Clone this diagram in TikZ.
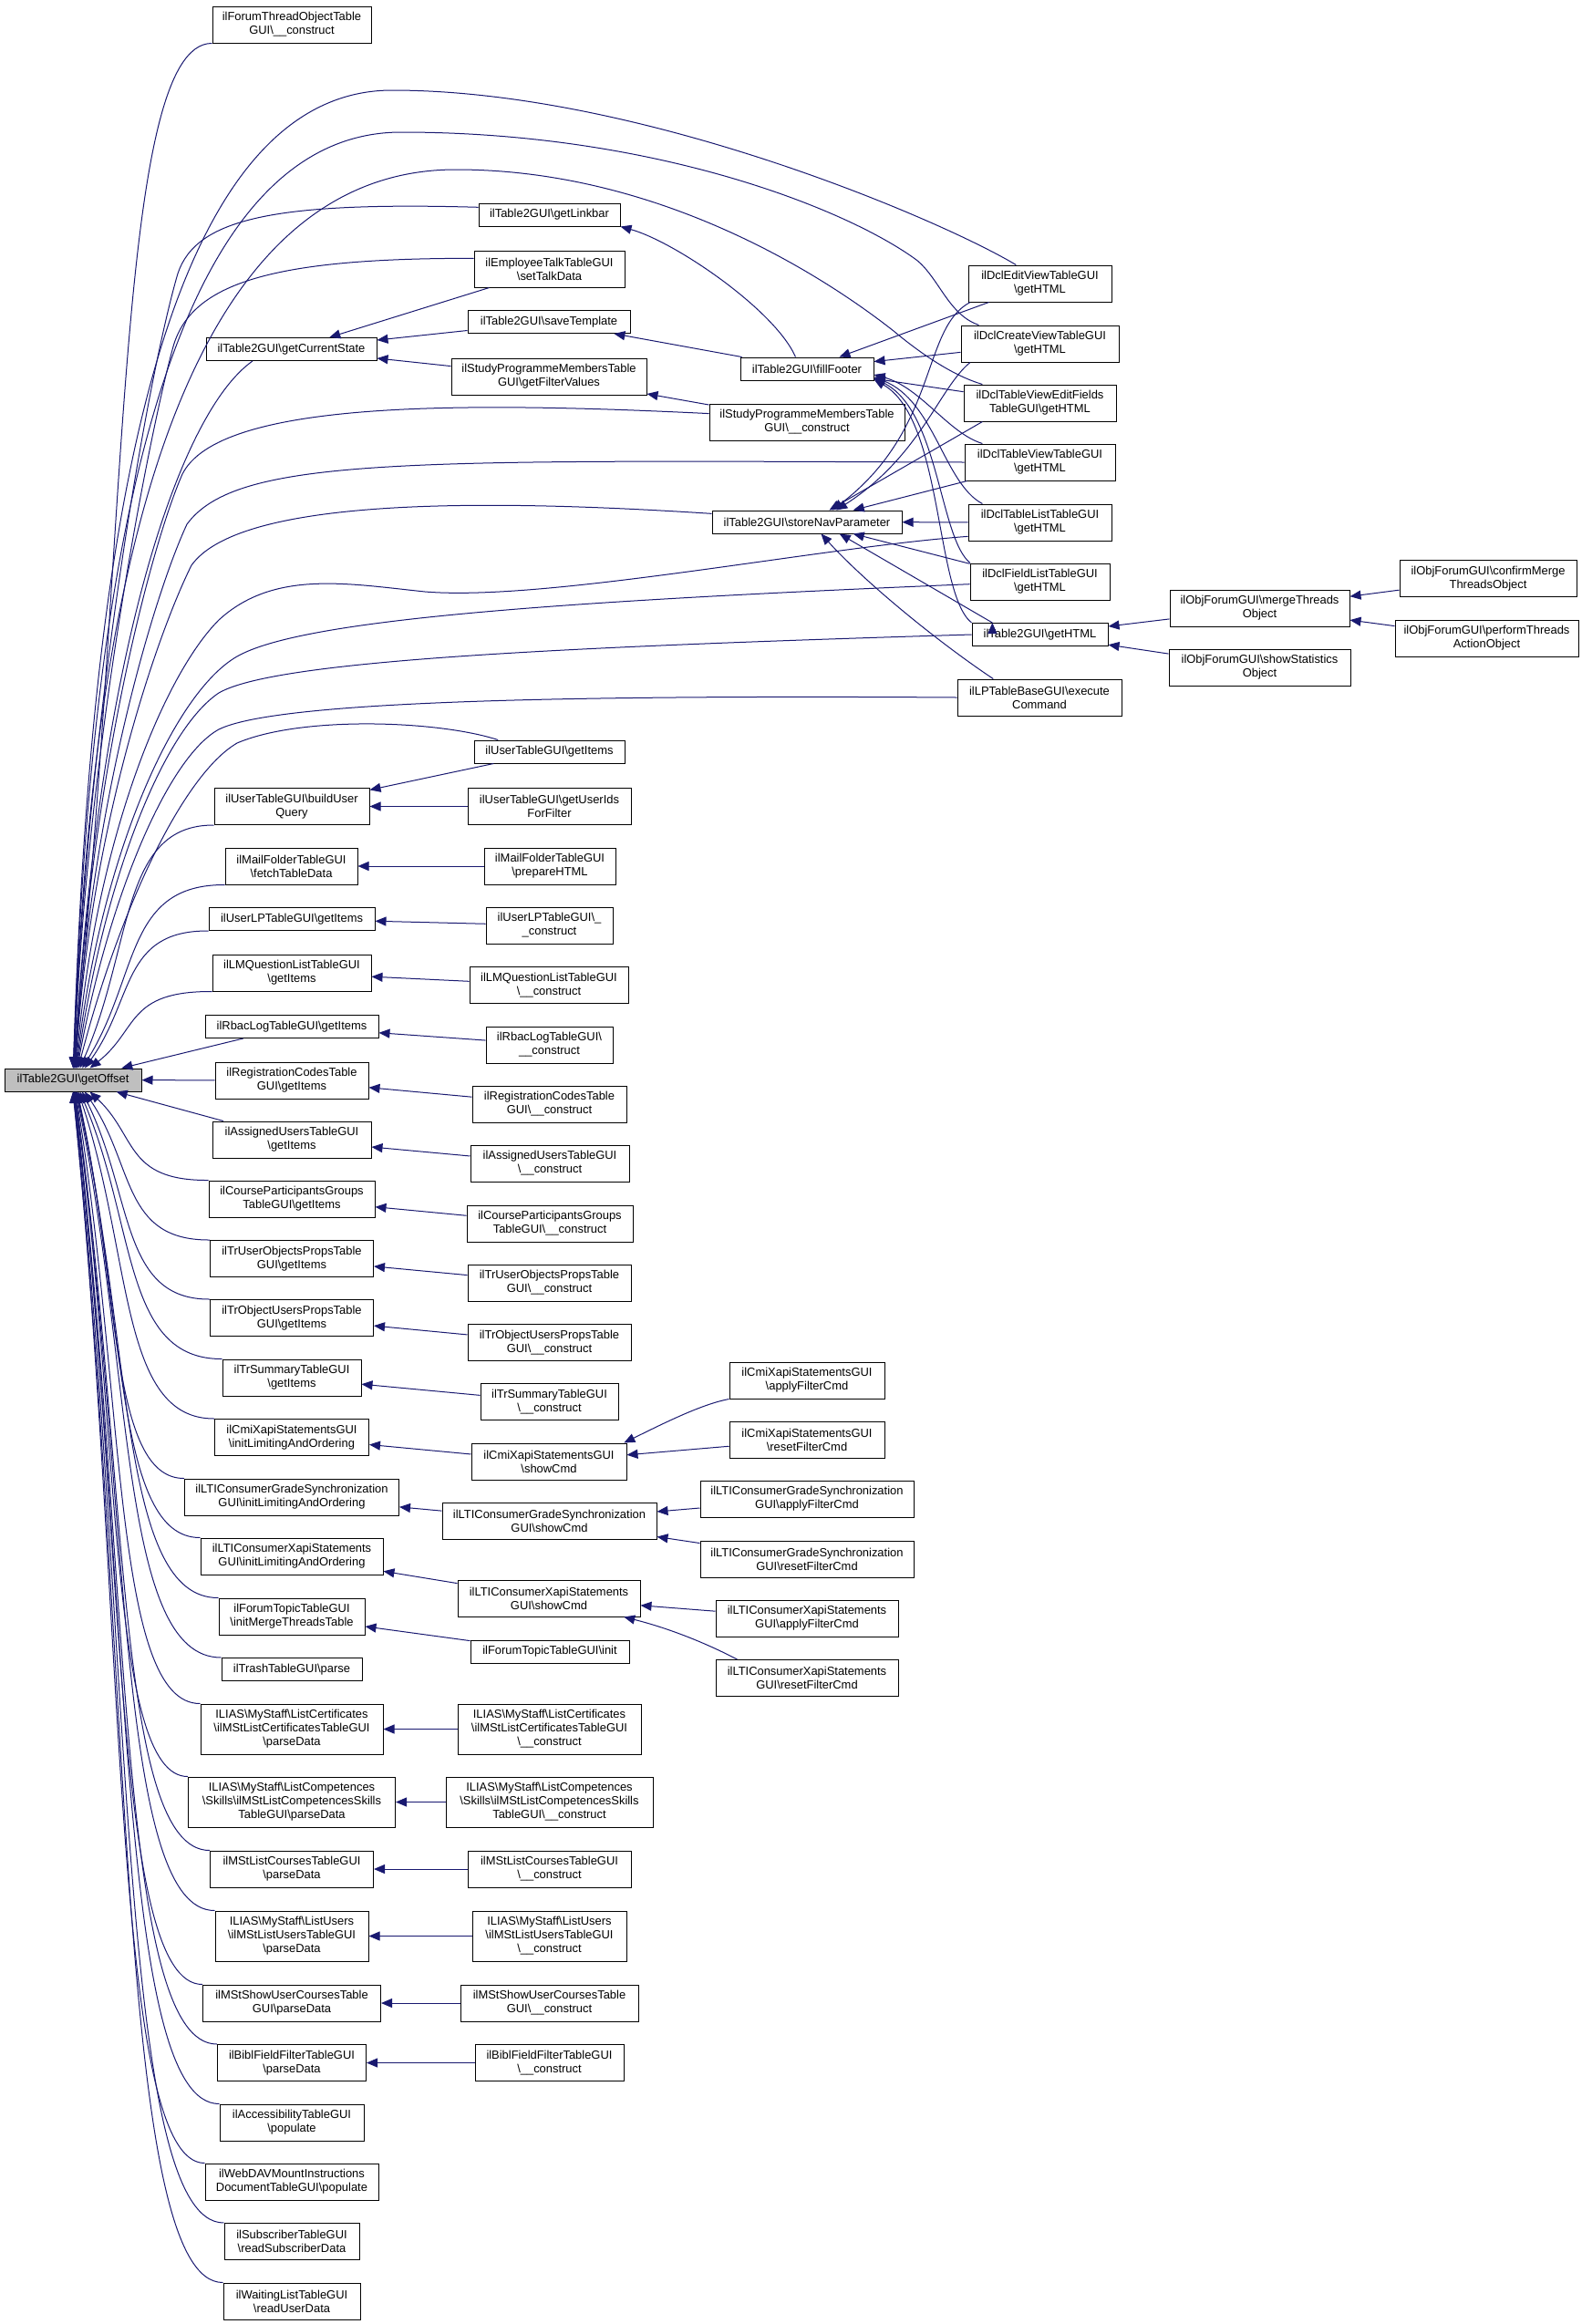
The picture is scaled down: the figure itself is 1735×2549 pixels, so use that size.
\documentclass[tikz,border=0pt]{standalone}
\usepackage{fontspec}
\setmainfont{Liberation Sans}
\usepackage{tikz}
\usetikzlibrary{arrows.meta}
\definecolor{edgeblue}{HTML}{191970}
\definecolor{rootgray}{HTML}{BFBFBF}
\newcommand{\bs}{\textbackslash}

\begin{document}
\begin{tikzpicture}[->,>={Triangle[length=9pt,width=7.5pt]},x=0.75pt,y=-0.75pt,
                    line width=0.75pt]
\tikzstyle{fn}=[draw=black,fill=white,align=center,inner sep=0pt]
\tikzstyle{one}=[minimum height=18.75pt]
\tikzstyle{two}=[minimum height=30pt]
\tikzstyle{three}=[minimum height=41.25pt]
\tikzstyle{call}=[draw=edgeblue]
\tikzstyle{every edge}=[call]
\tikzset{font=\fontsize{9.7pt}{11.25pt}\selectfont}

\useasboundingbox (0,0) rectangle (1735,2549);

        \node[fn,one,fill=rootgray,minimum width=112.5pt]  (getoffset)  at (80,1184.5)   {ilTable2GUI\bs getOffset};

        % first column
        \node[fn,two,minimum width=130.5pt]    (ftot)          at (320,27)      {ilForumThreadObjectTable\\GUI\bs\_\_construct};
        \node[fn,one,minimum width=140.25pt]   (curstate)      at (319.5,383)   {ilTable2GUI\bs getCurrentState};
        \node[fn,two,minimum width=127.5pt]    (buildq)        at (320,884.5)   {ilUserTableGUI\bs buildUser\\Query};
        \node[fn,two,minimum width=108.75pt]   (mailfetch)     at (319.5,950)   {ilMailFolderTableGUI\\\bs fetchTableData};
        \node[fn,one,minimum width=136.5pt]    (userlp)        at (320,1008)    {ilUserLPTableGUI\bs getItems};
        \node[fn,two,minimum width=130.5pt]    (lmq)           at (320,1067)    {ilLMQuestionListTableGUI\\\bs getItems};
        \node[fn,one,minimum width=142.5pt]    (rbac)          at (320,1126)    {ilRbacLogTableGUI\bs getItems};
        \node[fn,two,minimum width=126pt]      (regcodes)      at (320,1185)    {ilRegistrationCodesTable\\GUI\bs getItems};
        \node[fn,two,minimum width=130.5pt]    (assigned)      at (320,1250)    {ilAssignedUsersTableGUI\\\bs getItems};
        \node[fn,two,minimum width=136.5pt]    (coursepart)    at (320,1315)    {ilCourseParticipantsGroups\\TableGUI\bs getItems};
        \node[fn,two,minimum width=134.25pt]   (truserobj)     at (320,1380.5)  {ilTrUserObjectsPropsTable\\GUI\bs getItems};
        \node[fn,two,minimum width=134.25pt]   (trobjusers)    at (320,1445.5)  {ilTrObjectUsersPropsTable\\GUI\bs getItems};
        \node[fn,two,minimum width=114pt]      (trsummary)     at (320,1511)    {ilTrSummaryTableGUI\\\bs getItems};
        \node[fn,two,minimum width=126.75pt]   (cmiinit)       at (320,1576.5)  {ilCmiXapiStatementsGUI\\\bs initLimitingAndOrdering};
        \node[fn,two,minimum width=176.25pt]   (ltigradeinit)  at (320,1642)    {ilLTIConsumerGradeSynchronization\\GUI\bs initLimitingAndOrdering};
        \node[fn,two,minimum width=150pt]      (ltixapiinit)   at (320,1707)    {ilLTIConsumerXapiStatements\\GUI\bs initLimitingAndOrdering};
        \node[fn,two,minimum width=120pt]      (forummerge)    at (320,1773)    {ilForumTopicTableGUI\\\bs initMergeThreadsTable};
        \node[fn,one,minimum width=115.5pt]    (trash)         at (320,1831)    {ilTrashTableGUI\bs parse};
        \node[fn,three,minimum width=150pt]    (certparse)     at (320,1896.5)  {ILIAS\bs MyStaff\bs ListCertificates\\\bs ilMStListCertificatesTableGUI\\\bs parseData};
        \node[fn,three,minimum width=170.25pt] (compparse)     at (320,1976.5)  {ILIAS\bs MyStaff\bs ListCompetences\\\bs Skills\bs ilMStListCompetencesSkills\\TableGUI\bs parseData};
        \node[fn,two,minimum width=134.25pt]   (courseparse)   at (320,2050)    {ilMStListCoursesTableGUI\\\bs parseData};
        \node[fn,three,minimum width=126pt]    (usersparse)    at (320,2123.5)  {ILIAS\bs MyStaff\bs ListUsers\\\bs ilMStListUsersTableGUI\\\bs parseData};
        \node[fn,two,minimum width=146.25pt]   (showuserparse) at (320,2197)    {ilMStShowUserCoursesTable\\GUI\bs parseData};
        \node[fn,two,minimum width=122.25pt]   (biblparse)     at (320,2262.5)  {ilBiblFieldFilterTableGUI\\\bs parseData};
        \node[fn,two,minimum width=118.5pt]    (accpop)        at (320,2328)    {ilAccessibilityTableGUI\\\bs populate};
        \node[fn,two,minimum width=142.5pt]    (webdavpop)     at (320,2393)    {ilWebDAVMountInstructions\\DocumentTableGUI\bs populate};
        \node[fn,two,minimum width=111pt]      (subscriber)    at (320,2458.5)  {ilSubscriberTableGUI\\\bs readSubscriberData};
        \node[fn,two,minimum width=112.5pt]    (waiting)       at (320,2524)    {ilWaitingListTableGUI\\\bs readUserData};

        % second column
        \node[fn,one,minimum width=116.25pt]   (linkbar)       at (602.5,235.5) {ilTable2GUI\bs getLinkbar};
        \node[fn,two,minimum width=123.75pt]   (emptalk)       at (602.5,295)   {ilEmployeeTalkTableGUI\\\bs setTalkData};
        \node[fn,one,minimum width=133.5pt]    (savetpl)       at (602,353)     {ilTable2GUI\bs saveTemplate};
        \node[fn,two,minimum width=160.5pt]    (filtervals)    at (602,413)     {ilStudyProgrammeMembersTable\\GUI\bs getFilterValues};
        \node[fn,one,minimum width=123.75pt]   (usergetitems)  at (602.5,824.5) {ilUserTableGUI\bs getItems};
        \node[fn,two,minimum width=134.25pt]   (userids)       at (602.5,884.5) {ilUserTableGUI\bs getUserIds\\ForFilter};
        \node[fn,two,minimum width=108pt]      (mailprep)      at (603,950)     {ilMailFolderTableGUI\\\bs prepareHTML};
        \node[fn,two,minimum width=104.25pt]   (userlpcon)     at (602.5,1015)  {ilUserLPTableGUI\bs\_\\\_construct};
        \node[fn,two,minimum width=130.5pt]    (lmqcon)        at (602,1080.5)  {ilLMQuestionListTableGUI\\\bs\_\_construct};
        \node[fn,two,minimum width=104.25pt]   (rbaccon)       at (602.5,1146)  {ilRbacLogTableGUI\bs\\\_\_construct};
        \node[fn,two,minimum width=126.75pt]   (regcon)        at (602.5,1211)  {ilRegistrationCodesTable\\GUI\bs\_\_construct};
        \node[fn,two,minimum width=130.5pt]    (assignedcon)   at (603,1276)    {ilAssignedUsersTableGUI\\\bs\_\_construct};
        \node[fn,two,minimum width=136.5pt]    (coursepartcon) at (603,1342)    {ilCourseParticipantsGroups\\TableGUI\bs\_\_construct};
        \node[fn,two,minimum width=134.25pt]   (truserobjcon)  at (602.5,1407)  {ilTrUserObjectsPropsTable\\GUI\bs\_\_construct};
        \node[fn,two,minimum width=134.25pt]   (trobjuserscon) at (602.5,1472.5){ilTrObjectUsersPropsTable\\GUI\bs\_\_construct};
        \node[fn,two,minimum width=113.25pt]   (trsummarycon)  at (602.5,1537.5){ilTrSummaryTableGUI\\\bs\_\_construct};
        \node[fn,two,minimum width=127.5pt]    (cmishow)       at (602,1603)    {ilCmiXapiStatementsGUI\\\bs showCmd};
        \node[fn,two,minimum width=176.25pt]   (ltigradeshow)  at (602.5,1668)  {ilLTIConsumerGradeSynchronization\\GUI\bs showCmd};
        \node[fn,two,minimum width=150pt]      (ltixapishow)   at (602,1753)    {ilLTIConsumerXapiStatements\\GUI\bs showCmd};
        \node[fn,one,minimum width=130.5pt]    (forumtopicinit) at (603,1811.5) {ilForumTopicTableGUI\bs init};
        \node[fn,three,minimum width=150.75pt] (certcon)       at (602.5,1896.5){ILIAS\bs MyStaff\bs ListCertificates\\\bs ilMStListCertificatesTableGUI\\\bs\_\_construct};
        \node[fn,three,minimum width=170.25pt] (compcon)       at (602.5,1976.5){ILIAS\bs MyStaff\bs ListCompetences\\\bs Skills\bs ilMStListCompetencesSkills\\TableGUI\bs\_\_construct};
        \node[fn,two,minimum width=134.25pt]   (coursecon)     at (602.5,2050)  {ilMStListCoursesTableGUI\\\bs\_\_construct};
        \node[fn,three,minimum width=126.75pt] (userscon)      at (602.5,2123.5){ILIAS\bs MyStaff\bs ListUsers\\\bs ilMStListUsersTableGUI\\\bs\_\_construct};
        \node[fn,two,minimum width=146.25pt]   (showusercon)   at (602.5,2197)  {ilMStShowUserCoursesTable\\GUI\bs\_\_construct};
        \node[fn,two,minimum width=122.25pt]   (biblcon)       at (602.5,2262.5){ilBiblFieldFilterTableGUI\\\bs\_\_construct};

        % third column
        \node[fn,one,minimum width=109.5pt]    (fillfooter)    at (885,404.5)   {ilTable2GUI\bs fillFooter};
        \node[fn,two,minimum width=160.5pt]    (spmcon)        at (885,463)     {ilStudyProgrammeMembersTable\\GUI\bs\_\_construct};
        \node[fn,one,minimum width=156pt]      (storenav)      at (885,572.5)   {ilTable2GUI\bs storeNavParameter};
        \node[fn,two,minimum width=127.5pt]    (cmiapply)      at (885,1514)    {ilCmiXapiStatementsGUI\\\bs applyFilterCmd};
        \node[fn,two,minimum width=127.5pt]    (cmireset)      at (885,1579)    {ilCmiXapiStatementsGUI\\\bs resetFilterCmd};
        \node[fn,two,minimum width=175.5pt]    (ltigradeapply) at (885,1644)    {ilLTIConsumerGradeSynchronization\\GUI\bs applyFilterCmd};
        \node[fn,two,minimum width=175.5pt]    (ltigradereset) at (885,1710)    {ilLTIConsumerGradeSynchronization\\GUI\bs resetFilterCmd};
        \node[fn,two,minimum width=150pt]      (ltixapiapply)  at (885,1775)    {ilLTIConsumerXapiStatements\\GUI\bs applyFilterCmd};
        \node[fn,two,minimum width=150pt]      (ltixapireset)  at (885,1840.5)  {ilLTIConsumerXapiStatements\\GUI\bs resetFilterCmd};

        % fourth column
        \node[fn,two,minimum width=117.75pt]   (dcledit)       at (1140.5,311)  {ilDclEditViewTableGUI\\\bs getHTML};
        \node[fn,two,minimum width=129.75pt]   (dclcreate)     at (1140.5,377)  {ilDclCreateViewTableGUI\\\bs getHTML};
        \node[fn,two,minimum width=125.25pt]   (dcleditfields) at (1140.5,442)  {ilDclTableViewEditFields\\TableGUI\bs getHTML};
        \node[fn,two,minimum width=123.75pt]   (dcltableview)  at (1140.5,507)  {ilDclTableViewTableGUI\\\bs getHTML};
        \node[fn,two,minimum width=117.75pt]   (dcltablelist)  at (1140.5,573)  {ilDclTableListTableGUI\\\bs getHTML};
        \node[fn,two,minimum width=114.75pt]   (dclfieldlist)  at (1140.5,638)  {ilDclFieldListTableGUI\\\bs getHTML};
        \node[fn,one,minimum width=111.75pt]   (gethtml)       at (1140.5,696)  {ilTable2GUI\bs getHTML};
        \node[fn,two,minimum width=135pt]      (lpexec)        at (1140,765)    {ilLPTableBaseGUI\bs execute\\Command};

        % forum columns
        \node[fn,two,minimum width=147.75pt]   (mergethreads)  at (1381.5,667)  {ilObjForumGUI\bs mergeThreads\\Object};
        \node[fn,two,minimum width=149.25pt]   (showstats)     at (1381.5,732)  {ilObjForumGUI\bs showStatistics\\Object};
        \node[fn,two,minimum width=145.5pt]    (confirmmerge)  at (1632,634.5)  {ilObjForumGUI\bs confirmMerge\\ThreadsObject};
        \node[fn,two,minimum width=150.75pt]   (performthreads) at (1630.5,700) {ilObjForumGUI\bs performThreads\\ActionObject};

        % long callers of getOffset above it
        \draw[call] (ftot.south west) .. controls (126,47) and (141,610) .. (getoffset.90);
        \draw[call] (dcledit.142) .. controls (1030,240) and (700,99) .. (430,99)
                    .. controls (140,99) and (95,743) .. (getoffset.89);
        \draw[call] (dclcreate.163) .. controls (1040,345) and (1030,305) .. (1005,285)
                    .. controls (930,230) and (720,145) .. (440,145)
                    .. controls (145,145) and (95,761) .. (getoffset.88);
        \draw[call] (dcleditfields.162) .. controls (1045,412) and (1010,388) .. (980,363)
                    .. controls (900,300) and (720,186) .. (500,186)
                    .. controls (150,186) and (96,786) .. (getoffset.87);
        \draw[call] (linkbar.174) .. controls (300,221) and (215,240) .. (195,300)
                    .. controls (160,420) and (95,800) .. (getoffset.86);
        \draw[call] (emptalk.172) .. controls (300,283) and (210,310) .. (190,380)
                    .. controls (165,470) and (95,820) .. (getoffset.85);
        \draw[call] (curstate.197) .. controls (200,450) and (110,700) .. (getoffset.84);
        \draw[call] (spmcon.175) .. controls (500,440) and (240,440) .. (200,520)
                    .. controls (165,600) and (100,850) .. (getoffset.82);
        \draw[call] (dcltableview.west) .. controls (450,505) and (260,500) .. (205,575)
                    .. controls (170,650) and (100,880) .. (getoffset.80);
        \draw[call] (storenav.175) .. controls (500,545) and (260,550) .. (210,620)
                    .. controls (175,690) and (100,900) .. (getoffset.78);
        \draw[call] (dcltablelist.191) .. controls (900,600) and (600,660) .. (466,649)
                    .. controls (380,640) and (300,625) .. (240,680)
                    .. controls (180,740) and (105,920) .. (getoffset.76);
        \draw[call] (dclfieldlist.182) .. controls (600,660) and (330,680) .. (260,720)
                    .. controls (190,760) and (110,940) .. (getoffset.74);
        \draw[call] (gethtml.west) .. controls (600,710) and (300,725) .. (240,760)
                    .. controls (180,800) and (115,960) .. (getoffset.72);
        \draw[call] (lpexec.west) .. controls (600,762) and (300,770) .. (240,800)
                    .. controls (185,830) and (120,980) .. (getoffset.70);
        \draw[call] (usergetitems.167) .. controls (480,790) and (330,785) .. (260,815)
                    .. controls (200,850) and (130,1000) .. (getoffset.66);
        \draw[call] (buildq.south west) .. controls (131.5,904.5) and (146.3,1038) .. (getoffset.60);
        \draw[call] (mailfetch.south west) .. controls (137,970) and (152.7,1071) .. (getoffset.52);
        \draw[call] (userlp.south west) .. controls (133.5,1020.5) and (147.1,1096) .. (getoffset.45);
        \draw[call] (lmq.south west) .. controls (138.5,1087) and (151.9,1129.5) .. (getoffset.35);

        % callers of getOffset below it
        \draw[call] (coursepart.north west) .. controls (137.2,1295) and (150.3,1246) .. (getoffset.-35);
        \draw[call] (truserobj.north west) .. controls (133.9,1360.5) and (147.7,1278.8) .. (getoffset.-45);
        \draw[call] (trobjusers.north west) .. controls (132,1425.5) and (146.1,1311.3) .. (getoffset.-52);
        \draw[call] (trsummary.north west) .. controls (134.2,1491) and (149.9,1344) .. (getoffset.-60);
        \draw[call] (cmiinit.north west) .. controls (130.6,1556.5) and (145.6,1376.8) .. (getoffset.-66);
        \draw[call] (ltigradeinit.north west) .. controls (119.9,1622) and (131.7,1409.5) .. (getoffset.-70);
        \draw[call] (ltixapiinit.north west) .. controls (124.9,1687) and (138.5,1442) .. (getoffset.-72);
        \draw[call] (forummerge.north west) .. controls (130.5,1753) and (146.2,1475) .. (getoffset.-74);
        \draw[call] (trash.north west) .. controls (131.1,1818) and (147.1,1507.5) .. (getoffset.-76);
        \draw[call] (certparse.north west) .. controls (123.9,1869) and (137.6,1533) .. (getoffset.-78);
        \draw[call] (compparse.north west) .. controls (119.6,1949) and (132.1,1573) .. (getoffset.-80);
        \draw[call] (courseparse.north west) .. controls (126.4,2030) and (141.3,1613.5) .. (getoffset.-82);
        \draw[call] (usersparse.north west) .. controls (127.7,2096) and (143.2,1646.5) .. (getoffset.-84);
        \draw[call] (showuserparse.north west) .. controls (123.5,2177) and (137.7,1687) .. (getoffset.-85);
        \draw[call] (biblparse.north west) .. controls (128.2,2242.5) and (143.9,1719.8) .. (getoffset.-86);
        \draw[call] (accpop.north west) .. controls (128.8,2308) and (144.8,1752.5) .. (getoffset.-87);
        \draw[call] (webdavpop.north west) .. controls (123.8,2373) and (138.2,1785) .. (getoffset.-88);
        \draw[call] (subscriber.north west) .. controls (129.9,2438.5) and (146.5,1817.8) .. (getoffset.-89);
        \draw[call] (waiting.north west) .. controls (129.5,2504) and (146,1850.5) .. (getoffset.-90);

        % curved inner calls
        \draw[call] (fillfooter.134) .. controls (850,340) and (740,265) .. (linkbar.south east);
        \draw[call] (dcltableview.162) .. controls (1040,475) and (1010,425) .. (fillfooter.-5);
        \draw[call] (dcltablelist.162) .. controls (1035,530) and (1025,440) .. (fillfooter.-7);
        \draw[call] (dclfieldlist.165) .. controls (1030,590) and (1030,450) .. (fillfooter.-8);
        \draw[call] (gethtml.north west) .. controls (1025,650) and (1035,460) .. (fillfooter.-9);
        \draw[call] (dcledit.195) .. controls (1010,360) and (1030,470) .. (storenav.25);
        \draw[call] (dclcreate.195) .. controls (1030,425) and (1010,500) .. (storenav.22);
        \draw[call] (lpexec.158) .. controls (1030,705) and (950,640) .. (storenav.-40);
        \draw[call] (cmiapply.south west) .. controls (770,1540) and (730,1560) .. (cmishow.14);
        \draw[call] (ltixapireset.165) .. controls (770,1800) and (730,1785) .. (ltixapishow.-14);

        \path[call]
        (rbac)           edge node {}   (getoffset)
        (regcodes)       edge node {}   (getoffset)
        (assigned)       edge node {}   (getoffset)
        (emptalk)        edge node {}   (curstate)
        (savetpl)        edge node {}   (curstate)
        (filtervals)     edge node {}   (curstate)
        (fillfooter)     edge node {}   (savetpl)
        (spmcon)         edge node {}   (filtervals)
        (usergetitems)   edge node {}   (buildq)
        (userids)        edge node {}   (buildq)
        (mailprep)       edge node {}   (mailfetch)
        (userlpcon)      edge node {}   (userlp)
        (lmqcon)         edge node {}   (lmq)
        (rbaccon)        edge node {}   (rbac)
        (regcon)         edge node {}   (regcodes)
        (assignedcon)    edge node {}   (assigned)
        (coursepartcon)  edge node {}   (coursepart)
        (truserobjcon)   edge node {}   (truserobj)
        (trobjuserscon)  edge node {}   (trobjusers)
        (trsummarycon)   edge node {}   (trsummary)
        (cmishow)        edge node {}   (cmiinit)
        (ltigradeshow)   edge node {}   (ltigradeinit)
        (ltixapishow)    edge node {}   (ltixapiinit)
        (forumtopicinit) edge node {}   (forummerge)
        (certcon)        edge node {}   (certparse)
        (compcon)        edge node {}   (compparse)
        (coursecon)      edge node {}   (courseparse)
        (userscon)       edge node {}   (usersparse)
        (showusercon)    edge node {}   (showuserparse)
        (biblcon)        edge node {}   (biblparse)
        (cmireset)       edge node {}   (cmishow)
        (ltigradeapply)  edge node {}   (ltigradeshow)
        (ltigradereset)  edge node {}   (ltigradeshow)
        (ltixapiapply)   edge node {}   (ltixapishow)
        (dcledit)        edge node {}   (fillfooter)
        (dclcreate)      edge node {}   (fillfooter)
        (dcleditfields)  edge node {}   (fillfooter)
        (dcleditfields.198) edge node {} (storenav.28)
        (dcltableview)   edge node {}   (storenav)
        (dcltablelist)   edge node {}   (storenav)
        (dclfieldlist)   edge node {}   (storenav)
        (gethtml.166)    edge node {}   (storenav.-20)
        (mergethreads)   edge node {}   (gethtml)
        (showstats)      edge node {}   (gethtml)
        (confirmmerge)   edge node {}   (mergethreads)
        (performthreads) edge node {}   (mergethreads)
        ; %end path

\end{tikzpicture}
\end{document}
